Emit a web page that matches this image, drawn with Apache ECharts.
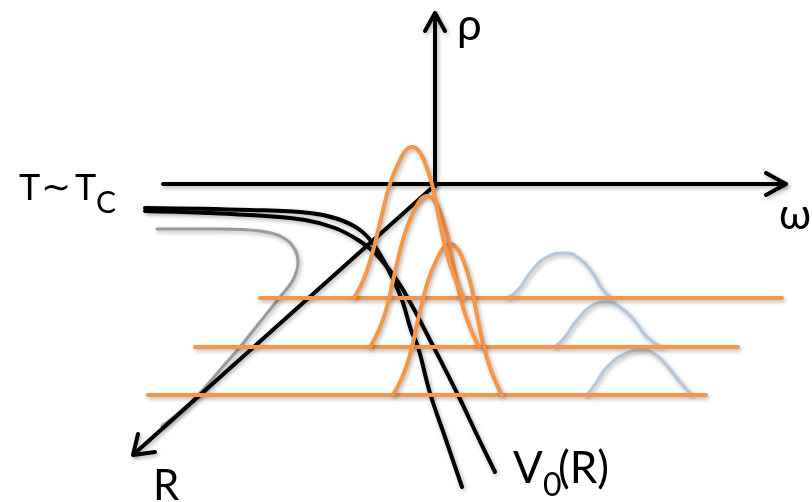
<!DOCTYPE html>
<html><head><meta charset="utf-8">
<script src="https://cdn.jsdelivr.net/npm/echarts@6/dist/echarts.min.js"></script>
<style>html,body{margin:0;padding:0;background:#fff}#c{width:812px;height:502px}</style>
</head><body><div id="c"></div>
<script>
// Diagram coordinates (x to the right, y downwards)
const rhoAxis = [[435,186],[435,14]];
const rhoHead = [[425,31],[435,13],[445,31]];
const omegaAxis = [[163,184],[785,184]];
const omegaHead = [[766,173],[786,184],[766,195]];
const rAxis = [[435,185],[134,454]];
const rHead = [[138,434],[133,455],[155,452]];

const potentialA = [[145,208],[250,210],[310,213],[338,219],[360,230],[374,245],[390,273],[402,300],[411,330],[418,347],[430,393],[446,440],[462,487]];
const potentialB = [[145,211],[250,215],[305,220],[335,228],[358,240],[376,254],[396,279],[410,302],[430,340],[458,395],[477,435],[495,472]];
const grayCurve = [[157,229],[220,229],[260,231],[282,237],[294,248],[298,262],[293,280],[280,297],[260,322],[240,347],[220,370],[200,393],[180,412],[162,426]];

const baseline1 = [[260,298],[782,298]];
const baseline2 = [[195,347],[738,347]];
const baseline3 = [[148,395],[706,395]];

const orangeBump1 = [[354,298],[363,281],[371,258],[380,223],[390,184],[400,160],[406,150],[412,147],[418,150],[424,160],[432,184],[440,223],[448,258],[456,281],[464,298]];
const orangeBump2 = [[370,347],[379,330],[387,307],[395,272],[405,233],[415,209],[421,199],[427,196],[433,199],[439,209],[447,233],[455,272],[463,307],[471,330],[479,347]];
const orangeBump3 = [[393,395],[402,378],[410,355],[418,320],[428,281],[438,257],[444,247],[450,244],[456,247],[462,257],[470,281],[478,320],[486,355],[494,378],[502,395]];

const blueBump1 = [[507,298],[518,290],[530,273],[547,257],[565,253],[580,259],[592,272],[603,290],[612,298]];
const blueBump2 = [[555,347],[565,337],[577,320],[593,305],[607,302],[620,307],[634,320],[647,337],[662,347]];
const blueBump3 = [[587,395],[596,383],[607,367],[627,353],[643,350],[656,355],[668,367],[680,382],[692,395]];

const ORANGE = '#F79646', BLACK = '#000000', GRAY = '#9a9a9a', BLUE = '#B3C6DE';
const FONT = 'Lato, "Open Sans", sans-serif';

function line(data, color, width, smooth) {
  return {
    type: 'line', data: data, smooth: smooth || false, symbol: 'none', silent: true,
    lineStyle: { color: color, width: width, cap: 'round', join: 'round',
      shadowColor: 'rgba(0,0,0,0.30)', shadowBlur: 4, shadowOffsetX: 1.5, shadowOffsetY: 2 }
  };
}
function txt(s, x, y, size) {
  return { type: 'text', x: x, y: y, silent: true,
    style: { text: s, font: size + 'px ' + FONT, fill: '#000', align: 'left', verticalAlign: 'middle' } };
}

const chart = echarts.init(document.getElementById('c'), null, {renderer: 'canvas'});
chart.setOption({
  animation: false,
  backgroundColor: '#fff',
  grid: { left: 0, right: 0, top: 0, bottom: 0 },
  xAxis: { type: 'value', min: 0, max: 812, show: false },
  yAxis: { type: 'value', min: 0, max: 502, inverse: true, show: false },
  series: [
    line(grayCurve, GRAY, 3, 0.4),
    line(potentialA, BLACK, 4, 0.4),
    line(potentialB, BLACK, 4, 0.4),
    line(rhoAxis, BLACK, 4),
    line(rhoHead, BLACK, 4),
    line(omegaAxis, BLACK, 4),
    line(omegaHead, BLACK, 4),
    line(rAxis, BLACK, 4),
    line(rHead, BLACK, 4),
    line(blueBump1, BLUE, 3, 0.5),
    line(blueBump2, BLUE, 3, 0.5),
    line(blueBump3, BLUE, 3, 0.5),
    line(baseline1, ORANGE, 4),
    line(baseline2, ORANGE, 4),
    line(baseline3, ORANGE, 4),
    line(orangeBump3, ORANGE, 4, 0.45),
    line(orangeBump2, ORANGE, 4, 0.45),
    line(orangeBump1, ORANGE, 4, 0.45)
  ],
  graphic: [
    txt('T', 19, 188, 36),
    txt('\u223C', 41, 187, 36),
    txt('T', 75, 188, 36),
    txt('C', 96, 203, 30),
    txt('\u03C1', 457, 26, 44),
    txt('\u03C9', 779, 215, 42),
    txt('R', 153, 486, 42),
    txt('V', 513, 469, 44),
    txt('0', 543, 486, 32),
    txt('(R)', 558, 469, 44)
  ]
});
</script>
</body></html>
